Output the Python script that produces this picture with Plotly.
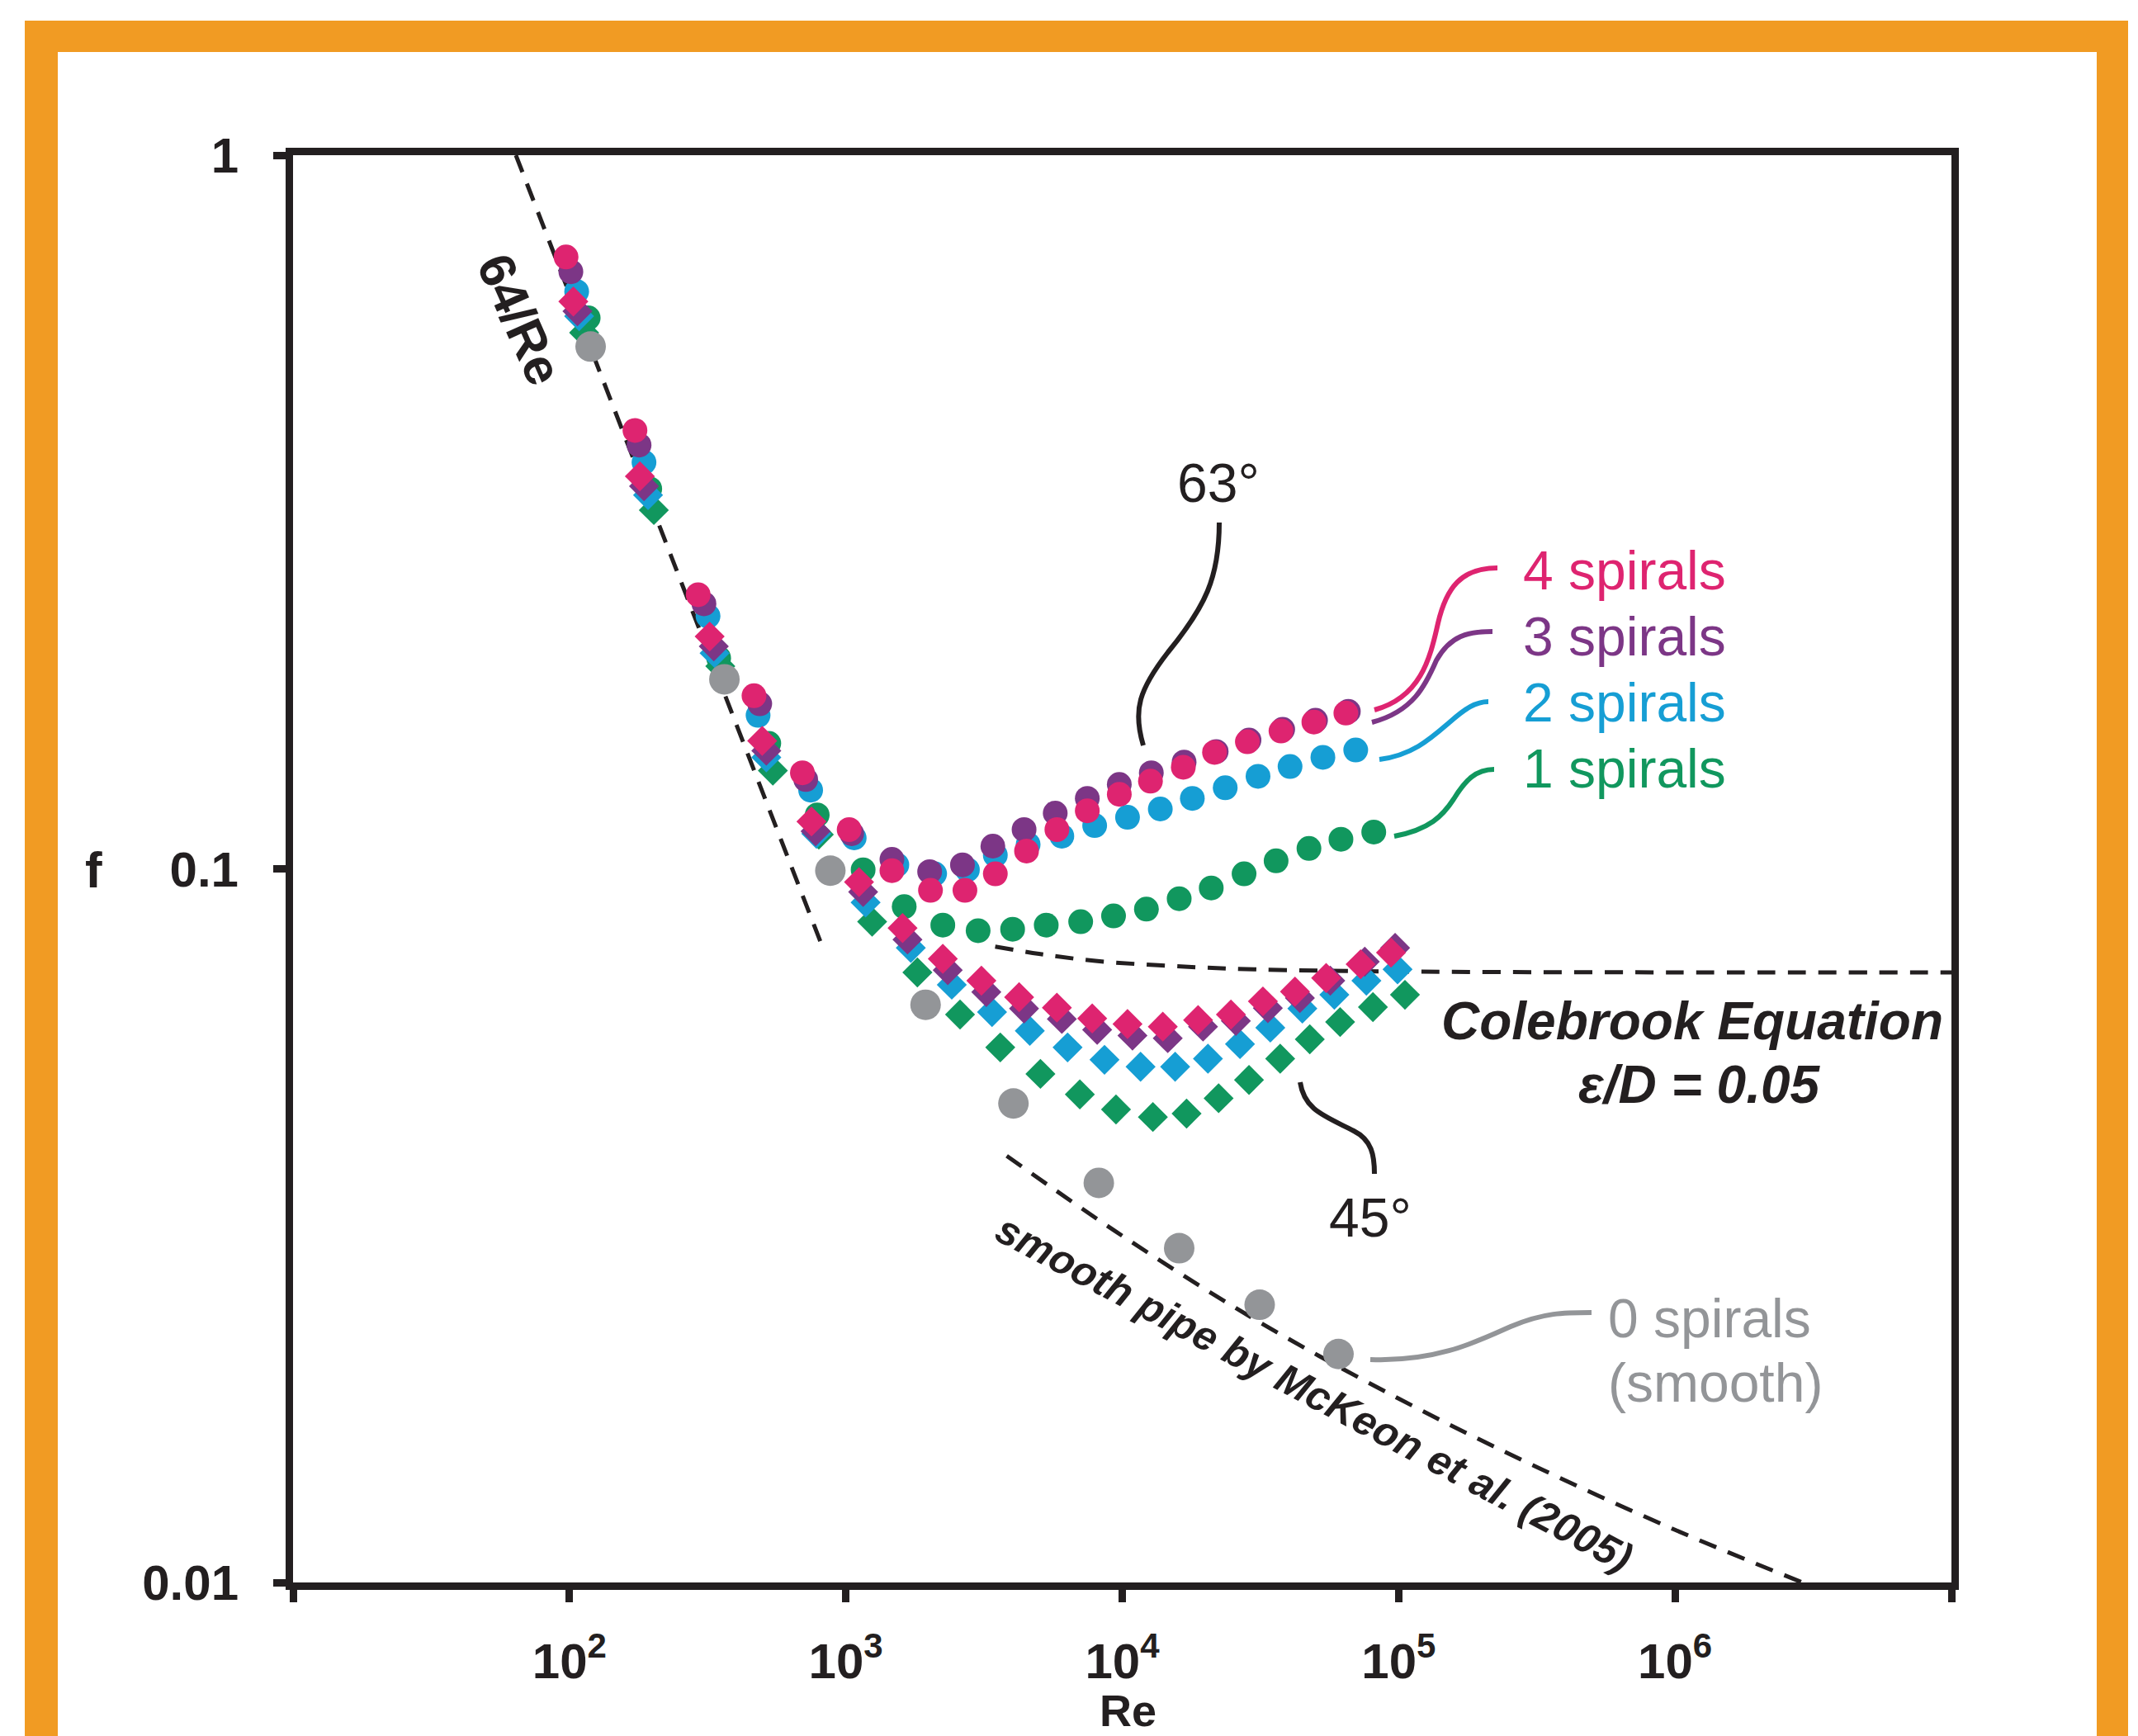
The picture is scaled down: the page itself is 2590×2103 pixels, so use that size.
import plotly.graph_objects as go

FONT = "Arial, 'Liberation Sans', Helvetica, sans-serif"

# ---------------- data ----------------
# 63 degree spirals (circles)
re_63_4 = [97.2, 172.6, 292.2, 465.3, 696.4, 1028, 1468, 2024, 2697, 3474, 4505, 5802, 7474, 9757, 12650, 16630, 21570, 28360, 37530, 49350, 64420]
f_63_4 = [0.720, 0.4115, 0.2422, 0.1748, 0.1363, 0.1135, 0.0994, 0.0933, 0.0933, 0.0984, 0.1059, 0.1135, 0.1206, 0.1272, 0.1327, 0.1388, 0.1456, 0.1507, 0.1560, 0.1606, 0.1653]
re_63_3 = [101.2, 178.6, 306.6, 488.0, 715.8, 1050, 1468, 2010, 2642, 3403, 4414, 5722, 7474, 9757, 12740, 16740, 21870, 28750, 38060, 50030, 65770]
f_63_3 = [0.6865, 0.3924, 0.2352, 0.1703, 0.1334, 0.1120, 0.1031, 0.0991, 0.1013, 0.1076, 0.1135, 0.1197, 0.1255, 0.1313, 0.1363, 0.1411, 0.1460, 0.1515, 0.1568, 0.1615, 0.1662]
re_63_2 = [106.2, 186.1, 317.2, 481.4, 745.8, 1072, 1529, 2095, 2753, 3474, 4566, 6045, 7948, 10450, 13730, 17930, 23580, 30990, 40470, 53200, 69940]
f_63_2 = [0.6441, 0.3712, 0.2260, 0.1641, 0.1289, 0.1105, 0.1013, 0.0984, 0.0997, 0.1045, 0.1082, 0.1111, 0.1150, 0.1181, 0.1213, 0.1255, 0.1299, 0.1348, 0.1391, 0.1433, 0.1467]
re_63_1 = [116.9, 195.2, 346.6, 526.2, 787.6, 1155, 1626, 2243, 3010, 4012, 5309, 7074, 9301, 12230, 16070, 20990, 27590, 36030, 47370, 61840, 81280]
f_63_1 = [0.5916, 0.3408, 0.1974, 0.1499, 0.1190, 0.0997, 0.0885, 0.0834, 0.0819, 0.0823, 0.0834, 0.0843, 0.0859, 0.0878, 0.0908, 0.0940, 0.0984, 0.1026, 0.1068, 0.1100, 0.1126]

# 45 degree spirals (diamonds)
re_45_4 = [103.3, 179.8, 321.6, 498.2, 751.0, 1116, 1604, 2243, 3093, 4236, 5802, 7787, 10450, 14020, 18810, 24730, 32280, 42160, 54660, 72860, 93840]
f_45_4 = [0.6238, 0.3548, 0.2116, 0.1511, 0.1165, 0.0958, 0.0826, 0.0748, 0.0697, 0.0661, 0.0639, 0.0617, 0.0606, 0.0601, 0.0614, 0.0625, 0.0652, 0.0673, 0.0703, 0.0735, 0.0763]
re_45_3 = [106.9, 186.1, 332.9, 515.6, 777.3, 1155, 1671, 2337, 3223, 4414, 6046, 8114, 10890, 14610, 19600, 25770, 33640, 43930, 56570, 75410, 97120]
f_45_3 = [0.6043, 0.3437, 0.2050, 0.1464, 0.1129, 0.0928, 0.0796, 0.0721, 0.0672, 0.0637, 0.0616, 0.0595, 0.0584, 0.0579, 0.0601, 0.0612, 0.0638, 0.0659, 0.0697, 0.0741, 0.0775]
re_45_2 = [108.4, 192.5, 335.0, 515.6, 782.4, 1179, 1718, 2417, 3380, 4630, 6342, 8627, 11650, 15540, 20420, 26670, 34340, 44840, 58540, 76440, 99110]
f_45_2 = [0.5948, 0.3339, 0.2006, 0.1433, 0.1120, 0.0897, 0.0775, 0.0688, 0.0630, 0.0593, 0.0562, 0.0540, 0.0528, 0.0528, 0.0542, 0.0568, 0.0599, 0.0637, 0.0666, 0.0697, 0.0723]
re_45_1 = [113.0, 202.0, 351.4, 544.5, 798.6, 1245, 1815, 2589, 3620, 5058, 7025, 9493, 12910, 17090, 22320, 28750, 37270, 47700, 61410, 80720, 105400]
f_45_1 = [0.5640, 0.3182, 0.1923, 0.1373, 0.1117, 0.0843, 0.0716, 0.0625, 0.0562, 0.0516, 0.0483, 0.0460, 0.0449, 0.0454, 0.0477, 0.0506, 0.0542, 0.0577, 0.0610, 0.0640, 0.0666]

# 0 spirals (smooth)
re_smooth = [119.3, 363.6, 878.9, 1943, 4040, 8226, 16070, 31420, 60580]
f_smooth = [0.5393, 0.1843, 0.0994, 0.0645, 0.0469, 0.0363, 0.0294, 0.0245, 0.0209]

# reference curves
re_laminar = [64, 809]
f_laminar = [1.0, 0.0791]
re_colebrook = [3470, 5000, 8000, 15000, 30000, 100000, 1000000, 10000000]
f_colebrook = [0.0778, 0.0760, 0.0743, 0.0731, 0.0723, 0.0718, 0.0716, 0.0716]
re_mckeon = [3820, 10000, 30000, 100000, 300000, 1000000, 3000000]
f_mckeon = [0.0396, 0.0306, 0.0234, 0.0181, 0.01465, 0.01185, 0.00994]

x_tickvals = [1e2, 1e3, 1e4, 1e5, 1e6]
x_ticktext = ["10<sup>2</sup>", "10<sup>3</sup>", "10<sup>4</sup>", "10<sup>5</sup>", "10<sup>6</sup>"]
x_unlabelled_ticks = [1e1, 1e7]
y_tickvals = [0.01, 0.1, 1]
y_ticktext = ["0.01", "0.1", "1"]

# ---------------- styles ----------------
PINK = "#DE2470"
PURPLE = "#7C3686"
BLUE = "#169ED4"
GREEN = "#11975E"
GRAY = "#939598"
BLACK = "#231F20"
ORANGE = "#F19B23"

W, H = 2590, 2103
L, R, T, B = 355, 2364, 188, 1917


def px(x):
    return (x - L) / (R - L)


def py(y):
    return (B - y) / (B - T)


fig = go.Figure()

dash = "22px,15px"
for xs, ys in [(re_laminar, f_laminar), (re_colebrook, f_colebrook), (re_mckeon, f_mckeon)]:
    fig.add_trace(go.Scatter(x=xs, y=ys, mode="lines", line=dict(color=BLACK, width=5, dash=dash, shape="spline"),
                             hoverinfo="skip", showlegend=False))

series = [
    (re_63_1, f_63_1, GREEN, "circle", 30),
    (re_45_1, f_45_1, GREEN, "diamond", 28),
    (re_63_2, f_63_2, BLUE, "circle", 30),
    (re_45_2, f_45_2, BLUE, "diamond", 28),
    (re_63_3, f_63_3, PURPLE, "circle", 30),
    (re_45_3, f_45_3, PURPLE, "diamond", 28),
    (re_63_4, f_63_4, PINK, "circle", 30),
    (re_45_4, f_45_4, PINK, "diamond", 28),
    (re_smooth, f_smooth, GRAY, "circle", 37),
]
for xs, ys, c, sym, sz in series:
    fig.add_trace(go.Scatter(x=xs, y=ys, mode="markers",
                             marker=dict(color=c, symbol=sym, size=sz, line=dict(width=0)),
                             showlegend=False))


def path(points):
    s = "M %f,%f" % (px(points[0][0]), py(points[0][1]))
    rest = points[1:]
    for i in range(0, len(rest), 3):
        a, b, c = rest[i], rest[i + 1], rest[i + 2]
        s += " C %f,%f %f,%f %f,%f" % (px(a[0]), py(a[1]), px(b[0]), py(b[1]), px(c[0]), py(c[1]))
    return s


leaders = [
    (BLACK, [(1477, 633), (1477, 700), (1460, 735), (1415, 790), (1380, 835), (1372, 860), (1385, 903)]),
    (BLACK, [(1575, 1311), (1580, 1345), (1605, 1352), (1640, 1370), (1662, 1381), (1665, 1400), (1665, 1422)]),
    (PINK, [(1665, 860), (1720, 845), (1732, 800), (1742, 755), (1752, 712), (1770, 688), (1814, 688)]),
    (PURPLE, [(1662, 875), (1712, 862), (1727, 830), (1740, 800), (1757, 770), (1778, 765), (1808, 765)]),
    (BLUE, [(1671, 920), (1712, 915), (1735, 893), (1756, 875), (1775, 858), (1788, 850), (1803, 850)]),
    (GREEN, [(1689, 1013), (1732, 1005), (1748, 988), (1761, 968), (1775, 945), (1788, 932), (1810, 932)]),
    (GRAY, [(1660, 1647), (1740, 1650), (1790, 1625), (1830, 1607), (1870, 1590), (1895, 1590), (1928, 1590)]),
]
shapes = []
for col, pts in leaders:
    shapes.append(dict(type="path", xref="paper", yref="paper", path=path(pts),
                       line=dict(color=col, width=6), fillcolor="rgba(0,0,0,0)"))

# orange frame
for x0, y0, x1, y1 in [(30, 25, 2578, 63), (30, 25, 70, 2150), (2540, 25, 2578, 2150)]:
    shapes.append(dict(type="rect", xref="paper", yref="paper", x0=px(x0), x1=px(x1), y0=py(y0), y1=py(y1),
                       fillcolor=ORANGE, line=dict(width=0), layer="above"))


def ann(text, x, y, size, color, weight="normal", style="normal", angle=0, xanchor="center"):
    return dict(text=text, x=px(x), y=py(y), xref="paper", yref="paper", showarrow=False,
                xanchor=xanchor, yanchor="middle", textangle=angle,
                font=dict(family=FONT, size=size, color=color, weight=weight, style=style))


annotations = [
    ann("f", 113, 1053, 62, BLACK, weight="bold"),
    ann("Re", 1366, 2072, 54, BLACK, weight="bold"),
    ann("64/Re", 630, 386, 62, BLACK, weight="bold", angle=66),
    ann("63°", 1476, 585, 66, BLACK),
    ann("45°", 1660, 1475, 66, BLACK),
    ann("4 spirals", 1843, 691, 66, PINK, xanchor="left"),
    ann("3 spirals", 1843, 771, 66, PURPLE, xanchor="left"),
    ann("2 spirals", 1843, 851, 66, BLUE, xanchor="left"),
    ann("1 spirals", 1843, 931, 66, GREEN, xanchor="left"),
    ann("0 spirals", 1946, 1597, 66, GRAY, xanchor="left"),
    ann("(smooth)", 1946, 1675, 66, GRAY, xanchor="left"),
    ann("Colebrook Equation", 2050, 1237, 64, BLACK, weight="bold", style="italic"),
    ann("ε/D = 0.05", 2059, 1314, 64, BLACK, weight="bold", style="italic"),
    ann("smooth pipe by McKeon et al. (2005)", 1592, 1688, 50, BLACK, weight="bold", style="italic", angle=28),
]

axis_common = dict(type="log", showline=True, linewidth=9, linecolor=BLACK, mirror=True,
                   ticks="outside", ticklen=15, tickwidth=9, tickcolor=BLACK,
                   showgrid=False, zeroline=False, automargin=False,
                   tickfont=dict(family=FONT, size=60, color=BLACK, weight="bold"))

fig.update_layout(
    template="none",
    width=W, height=H,
    margin=dict(l=L, r=W - R, t=T, b=H - B, pad=0),
    paper_bgcolor="white", plot_bgcolor="white",
    showlegend=False,
    xaxis=dict(range=[1, 7], tickmode="array", tickvals=x_tickvals, ticktext=x_ticktext,
               ticklabelstandoff=20,
               minor=dict(tickmode="array", tickvals=x_unlabelled_ticks, ticks="outside",
                          ticklen=15, tickwidth=9, tickcolor=BLACK, showgrid=False),
               **axis_common),
    yaxis=dict(range=[-2, 0], tickmode="array", tickvals=y_tickvals, ticktext=y_ticktext,
               ticklabelstandoff=30, **axis_common),
    shapes=shapes,
    annotations=annotations,
)

fig.write_html("out.html", config={"displayModeBar": False},
               post_script="document.body.style.margin='0';document.body.style.overflow='hidden';")
